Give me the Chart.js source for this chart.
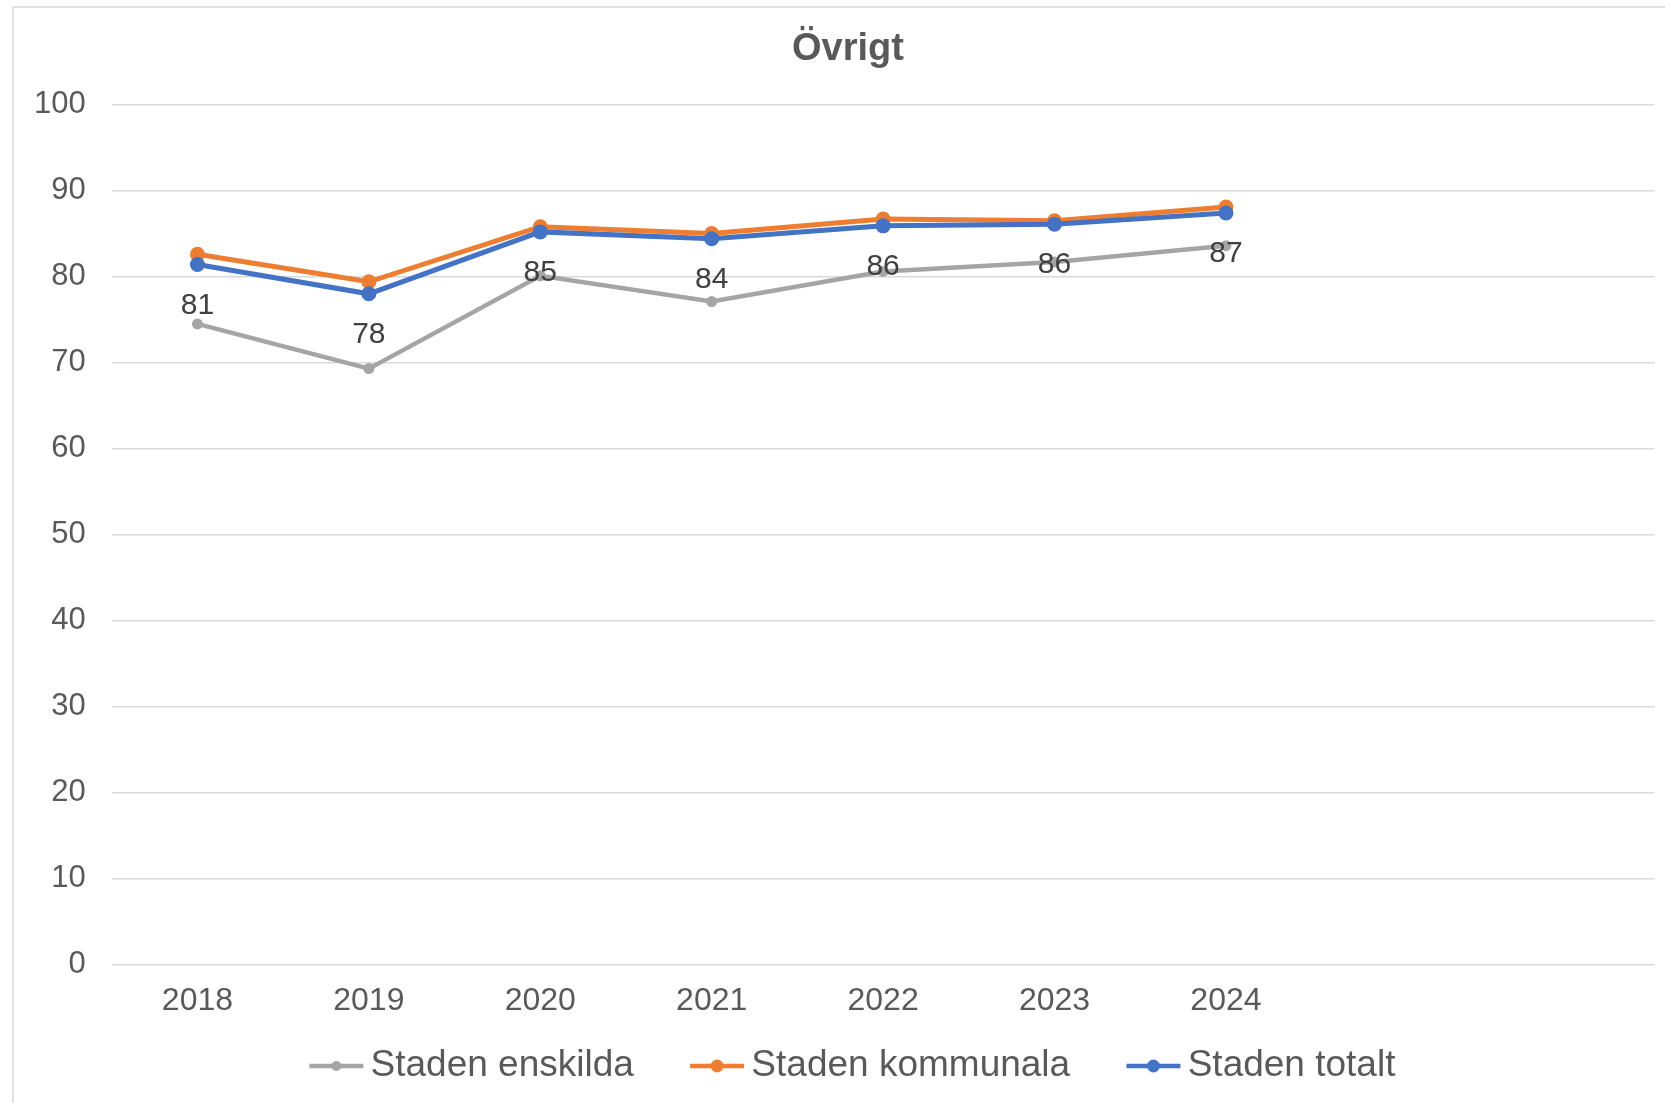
<!DOCTYPE html>
<html>
<head>
<meta charset="utf-8">
<script src="https://cdn.jsdelivr.net/npm/chart.js@4.4.1/dist/chart.umd.min.js"></script>
<style>
  html, body { margin: 0; padding: 0; background: #ffffff; }
  #wrap { width: 1665px; height: 1103px; position: relative; }
</style>
</head>
<body>
<div id="wrap"><canvas id="c" width="1665" height="1103"></canvas></div>
<script>
// ---- data ----
const chartTitle = 'Övrigt';
const categories = ['2018', '2019', '2020', '2021', '2022', '2023', '2024', '', ''];
const seriesNames = ['Staden enskilda', 'Staden kommunala', 'Staden totalt'];
const stadenEnskilda = [74.5, 69.3, 80.1, 77.1, 80.6, 81.7, 83.6];
const stadenKommunala = [82.6, 79.4, 85.8, 85.0, 86.7, 86.5, 88.1];
const stadenTotalt = [81.4, 78.0, 85.2, 84.4, 85.9, 86.1, 87.4];
const yMin = 0, yMax = 100, yStep = 10;

// ---- styles ----
const FONT = '"Liberation Sans", Arial, sans-serif';
const colors = ['#a5a5a5', '#ed7d31', '#4472c4'];
const lineWidths = [4.5, 5, 5];
const pointRadii = [5.5, 7.5, 7.5];
const TEXT = '#595959';

function markerImage(color, r, lw) {
  const c = document.createElement('canvas');
  c.width = 114; c.height = 20;
  const x = c.getContext('2d');
  x.strokeStyle = color; x.lineWidth = lw;
  x.beginPath(); x.moveTo(59, 10); x.lineTo(113, 10); x.stroke();
  x.fillStyle = color;
  x.beginPath(); x.arc(86, 10, r, 0, Math.PI * 2); x.fill();
  return c;
}
const markers = colors.map((c, i) => markerImage(c, i === 0 ? 5 : 6.5, 4.5));

const seriesData = [stadenEnskilda, stadenKommunala, stadenTotalt];
const datasets = seriesNames.map((name, i) => ({
  label: name,
  data: seriesData[i],
  borderColor: colors[i],
  backgroundColor: colors[i],
  borderWidth: lineWidths[i],
  pointRadius: pointRadii[i],
  pointHoverRadius: pointRadii[i],
  pointBackgroundColor: colors[i],
  pointBorderWidth: 0,
  tension: 0,
  order: 2 - i
}));

const framePlugin = {
  id: 'frame',
  beforeDraw(chart) {
    const ctx = chart.ctx;
    ctx.save();
    ctx.fillStyle = '#ffffff';
    ctx.fillRect(0, 0, chart.width, chart.height);
    ctx.strokeStyle = '#d9d9d9';
    ctx.lineWidth = 1.5;
    ctx.beginPath();
    ctx.moveTo(13, chart.height);
    ctx.lineTo(13, 7);
    ctx.lineTo(chart.width, 7);
    ctx.stroke();
    ctx.restore();
  }
};

const shiftPlugin = {
  id: 'shift',
  afterLayout(chart) {
    const L = chart.legend;
    if (L) {
      const dx = (852.5 - 23.5) - (L.left + L.right) / 2;
      L.left += dx; L.right += dx;
    }
    const T = chart.titleBlock;
    if (T) {
      const dx = 848 - (T.left + T.right) / 2;
      T.left += dx; T.right += dx;
    }
  }
};

const labelPlugin = {
  id: 'valueLabels',
  afterDatasetsDraw(chart) {
    const ctx = chart.ctx;
    const meta = chart.getDatasetMeta(2);
    ctx.save();
    ctx.font = '30px ' + FONT;
    ctx.fillStyle = '#404040';
    ctx.textAlign = 'center';
    ctx.textBaseline = 'middle';
    meta.data.forEach((pt, i) => {
      const v = chart.data.datasets[2].data[i];
      ctx.fillText(String(Math.round(v)), pt.x, pt.y + 41);
    });
    ctx.restore();
  }
};

new Chart(document.getElementById('c'), {
  type: 'line',
  data: { labels: categories, datasets },
  plugins: [framePlugin, shiftPlugin, labelPlugin],
  options: {
    responsive: false,
    animation: false,
    devicePixelRatio: 1,
    layout: { padding: { top: 0, left: 8, right: 10.5, bottom: 8.5 } },
    plugins: {
      tooltip: { enabled: false },
      title: {
        display: true,
        text: chartTitle,
        color: TEXT,
        font: { family: FONT, size: 38, weight: 'bold' },
        padding: { top: 27, bottom: 32 }
      },
      legend: {
        display: true,
        position: 'bottom',
        labels: {
          usePointStyle: true,
          pointStyleWidth: 89.5,
          padding: 9.5,
          color: TEXT,
          font: { family: FONT, size: 37 },
          generateLabels(chart) {
            return chart.data.datasets.map((ds, i) => ({
              text: ds.label,
              fillStyle: colors[i],
              strokeStyle: colors[i],
              lineWidth: 0,
              pointStyle: markers[i],
              hidden: false,
              datasetIndex: i,
              fontColor: TEXT
            }));
          }
        }
      }
    },
    scales: {
      x: {
        type: 'category',
        offset: true,
        grid: { display: false, drawTicks: false },
        border: { display: false },
        ticks: {
          autoSkip: false,
          maxRotation: 0,
          padding: 17.5,
          color: TEXT,
          font: { family: FONT, size: 32 }
        }
      },
      y: {
        min: yMin,
        max: yMax,
        grid: { color: '#d9d9d9', lineWidth: 1.5, drawTicks: false },
        border: { display: false },
        ticks: {
          stepSize: yStep,
          padding: 26,
          color: TEXT,
          font: { family: FONT, size: 31 }
        }
      }
    }
  }
});
</script>
</body>
</html>
